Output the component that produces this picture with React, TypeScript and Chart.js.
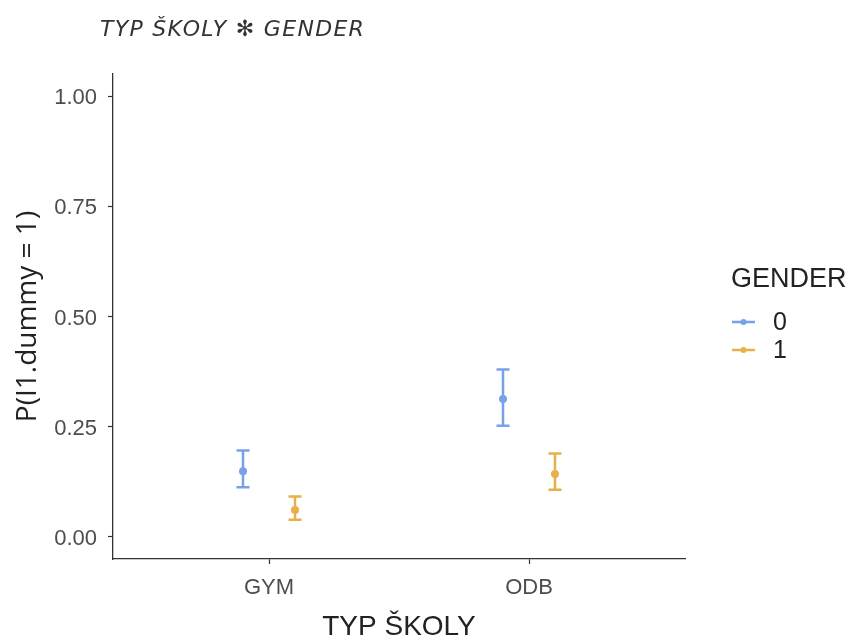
import React, { useEffect, useRef } from "react";
import { Chart, registerables } from "chart.js";

Chart.register(...registerables);

const categories = ["GYM", "ODB"];
const genders = ["0", "1"];
const estGender0 = [0.149, 0.313];
const lowGender0 = [0.113, 0.252];
const highGender0 = [0.196, 0.38];
const estGender1 = [0.061, 0.143];
const lowGender1 = [0.039, 0.107];
const highGender1 = [0.092, 0.189];
const yTicks = [0, 0.25, 0.5, 0.75, 1];

const plotTitle = "TYP ŠKOLY ✻ GENDER";
const xTitle = "TYP ŠKOLY";
const yTitle = "P(I1.dummy = 1)";
const legendTitle = "GENDER";

const colors = ["#77a1ea", "#e8b04a"];
const DODGE = 0.1;

const overlay = {
  id: "overlay",
  beforeDatasetsDraw(chart: any) {
    const ctx = chart.ctx;
    const xs = chart.scales.x;
    const ys = chart.scales.y;
    const series = [
      { low: lowGender0, high: highGender0 },
      { low: lowGender1, high: highGender1 },
    ];
    ctx.save();
    series.forEach((s, si) => {
      ctx.strokeStyle = colors[si];
      ctx.lineWidth = 2.5;
      s.low.forEach((lo, i) => {
        const xv = i + 1 + (si === 0 ? -DODGE : DODGE);
        const px = xs.getPixelForValue(xv);
        const pl = ys.getPixelForValue(lo);
        const ph = ys.getPixelForValue(s.high[i]);
        ctx.beginPath();
        ctx.moveTo(px, pl);
        ctx.lineTo(px, ph);
        ctx.moveTo(px - 6.5, pl);
        ctx.lineTo(px + 6.5, pl);
        ctx.moveTo(px - 6.5, ph);
        ctx.lineTo(px + 6.5, ph);
        ctx.stroke();
      });
    });
    ctx.restore();
  },
  afterDraw(chart: any) {
    const ctx = chart.ctx;
    const area = chart.chartArea;
    ctx.save();
    // plot title
    ctx.fillStyle = "#333333";
    ctx.font = "italic 22px 'DejaVu Sans', sans-serif";
    ctx.textAlign = "left";
    ctx.textBaseline = "middle";
    try {
      (ctx as any).letterSpacing = "1.3px";
    } catch (e) {}
    ctx.fillText(plotTitle, 100, 30);
    try {
      (ctx as any).letterSpacing = "0px";
    } catch (e) {}
    // x title
    ctx.fillStyle = "#222222";
    ctx.font = "28px 'Liberation Sans', Arial, sans-serif";
    ctx.textAlign = "center";
    ctx.fillText(xTitle, (area.left + area.right) / 2, 627);
    // y title
    ctx.save();
    ctx.translate(28, (area.top + area.bottom) / 2);
    ctx.rotate(-Math.PI / 2);
    ctx.font = "28px 'Open Sans', sans-serif";
    ctx.textAlign = "center";
    ctx.textBaseline = "middle";
    ctx.fillText(yTitle, 0, 0);
    ctx.restore();
    // legend
    ctx.textAlign = "left";
    ctx.textBaseline = "middle";
    ctx.font = "27px 'Liberation Sans', Arial, sans-serif";
    ctx.fillStyle = "#222222";
    ctx.fillText(legendTitle, 731, 280);
    ctx.font = "25px 'Liberation Sans', Arial, sans-serif";
    genders.forEach((g, i) => {
      const cy = 322 + i * 28;
      ctx.strokeStyle = colors[i];
      ctx.lineWidth = 2.5;
      ctx.beginPath();
      ctx.moveTo(732, cy);
      ctx.lineTo(755, cy);
      ctx.stroke();
      ctx.fillStyle = colors[i];
      ctx.beginPath();
      ctx.arc(743.5, cy, 3, 0, Math.PI * 2);
      ctx.fill();
      ctx.fillStyle = "#222222";
      ctx.fillText(g, 773, cy + 1);
    });
    ctx.restore();
  },
};

export default function App() {
  const ref = useRef<HTMLCanvasElement>(null);
  useEffect(() => {
    if (!ref.current) return;
    const chart = new Chart(ref.current, {
      type: "scatter",
      data: {
        datasets: [
          {
            label: genders[0],
            data: estGender0.map((v, i) => ({ x: i + 1 - DODGE, y: v })),
            backgroundColor: colors[0],
            borderColor: colors[0],
            pointRadius: 4,
            pointBorderWidth: 0,
          },
          {
            label: genders[1],
            data: estGender1.map((v, i) => ({ x: i + 1 + DODGE, y: v })),
            backgroundColor: colors[1],
            borderColor: colors[1],
            pointRadius: 4,
            pointBorderWidth: 0,
          },
        ],
      },
      options: {
        responsive: false,
        animation: false,
        devicePixelRatio: 1,
        layout: { padding: { top: 74, right: 166, left: 0, bottom: 0 } },
        plugins: { legend: { display: false }, tooltip: { enabled: false }, title: { display: false } },
        scales: {
          x: {
            type: "linear",
            min: 0.4,
            max: 2.6,
            afterBuildTicks: (s: any) => {
              s.ticks = categories.map((_, i) => ({ value: i + 1 }));
            },
            afterFit: (s: any) => {
              s.height = 80;
            },
            ticks: {
              callback: (v: any) => categories[Math.round(Number(v)) - 1] ?? "",
              color: "#4d4d4d",
              font: { family: "'Liberation Sans', Arial, sans-serif", size: 22 },
              padding: 11,
              maxRotation: 0,
            },
            grid: { drawOnChartArea: false, drawTicks: true, tickLength: 5, tickColor: "#333333", tickWidth: 1.2 },
            border: { display: true, color: "#333333", width: 1.3 },
          },
          y: {
            min: -0.05,
            max: 1.05,
            afterBuildTicks: (s: any) => {
              s.ticks = yTicks.map((v) => ({ value: v }));
            },
            afterFit: (s: any) => {
              s.width = 113;
            },
            ticks: {
              callback: (v: any) => Number(v).toFixed(2),
              color: "#4d4d4d",
              font: { family: "'Liberation Sans', Arial, sans-serif", size: 22 },
              padding: 11,
              labelOffset: 2,
            },
            grid: { drawOnChartArea: false, drawTicks: true, tickLength: 5, tickColor: "#333333", tickWidth: 1.2 },
            border: { display: true, color: "#333333", width: 1.3 },
          },
        },
      },
      plugins: [overlay],
    });
    return () => chart.destroy();
  }, []);
  return (
    <div style={{ position: "absolute", left: 0, top: 0, width: 851, height: 639, background: "#fff" }}>
      <canvas ref={ref} width={851} height={639} style={{ display: "block" }} />
    </div>
  );
}
